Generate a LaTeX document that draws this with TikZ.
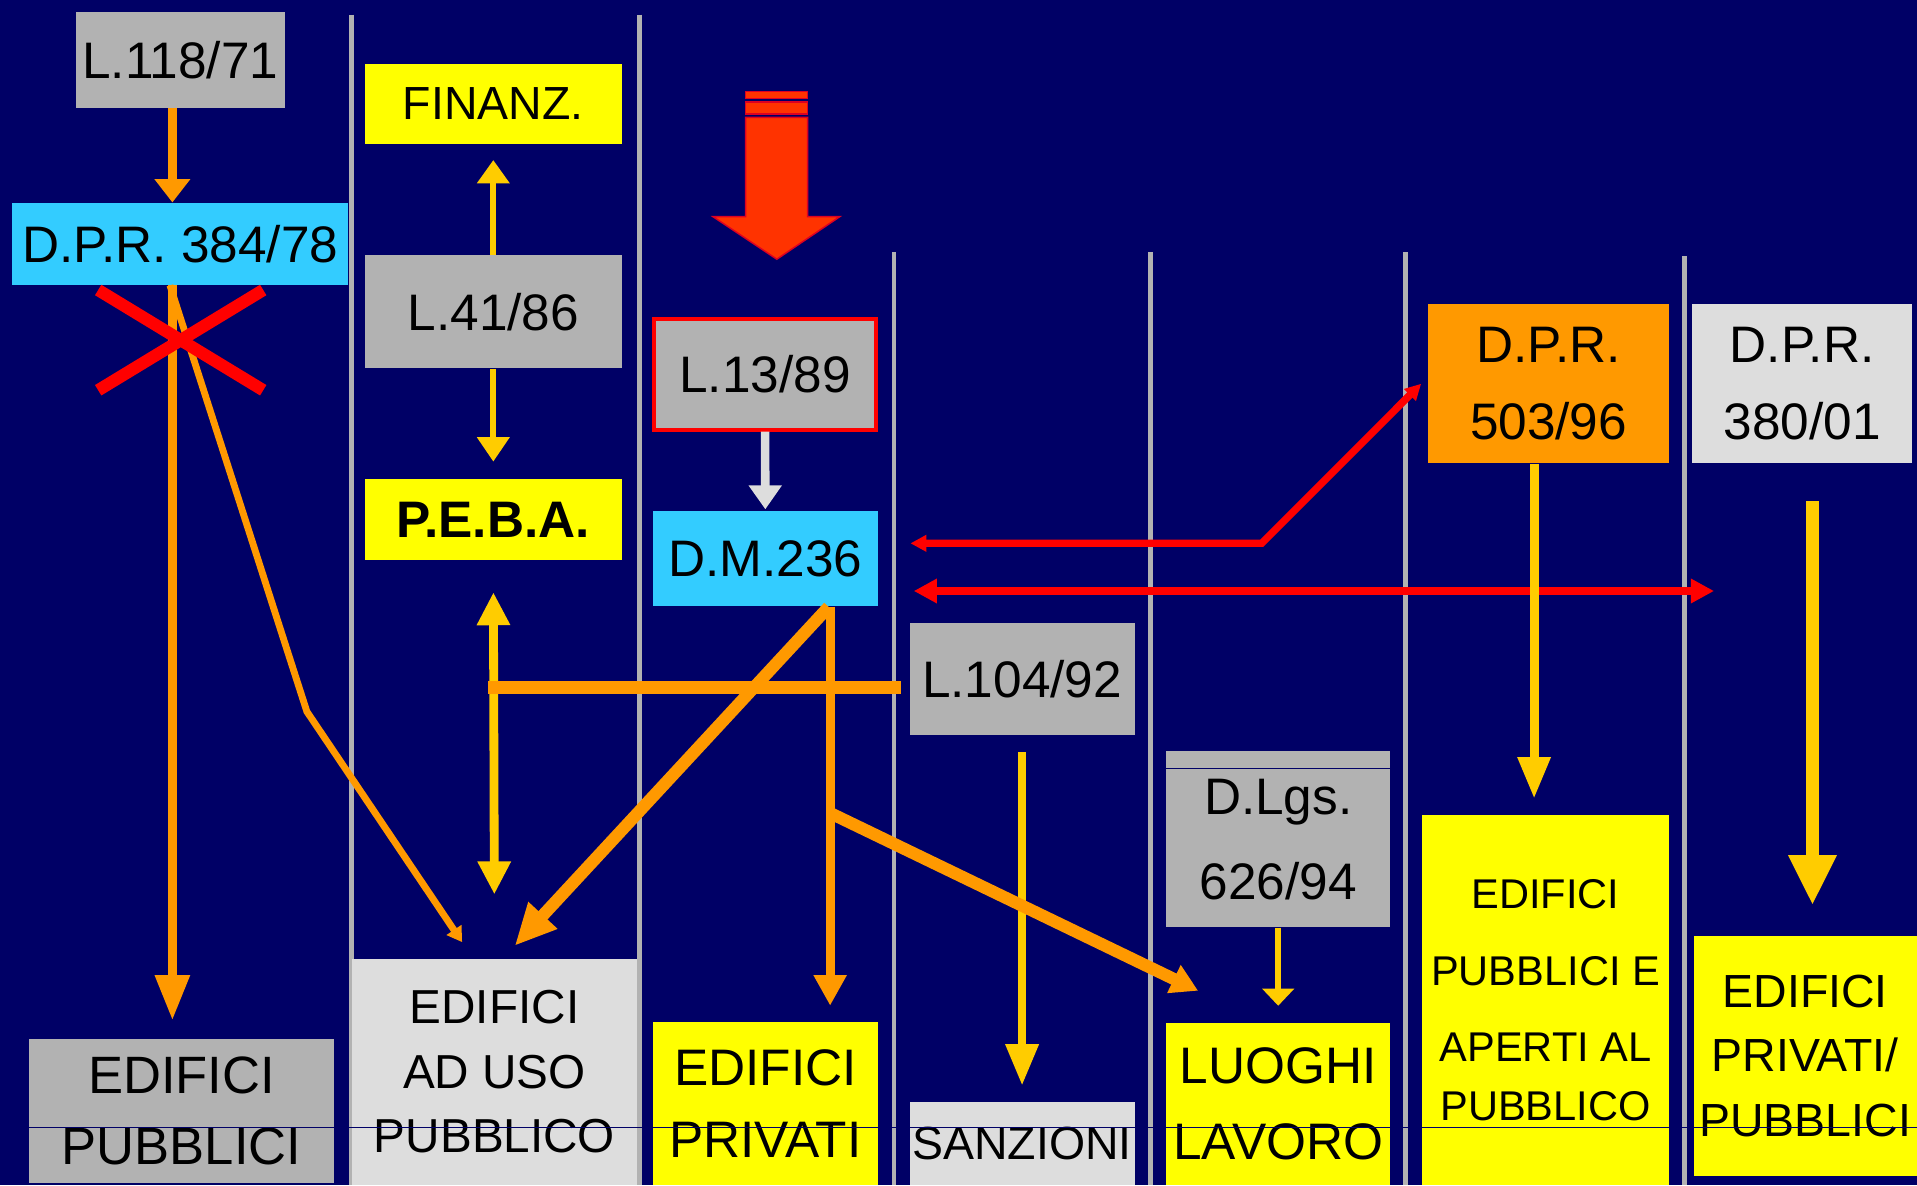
\documentclass[tikz,border=0pt]{standalone}
\usepackage{fontspec}
\setmainfont{Liberation Sans}
\usetikzlibrary{arrows.meta}

\definecolor{navy}{HTML}{000066}
\definecolor{sepgray}{HTML}{B2B2B2}
\definecolor{boxgray}{HTML}{B2B2B2}
\definecolor{boxlight}{HTML}{DDDDDD}
\definecolor{boxcyan}{HTML}{33CCFF}
\definecolor{boxyellow}{HTML}{FFFF00}
\definecolor{boxorange}{HTML}{FF9900}
\definecolor{linkorange}{HTML}{FF9900}
\definecolor{linkgold}{HTML}{FFCC00}
\definecolor{linkred}{HTML}{FF0000}
\definecolor{bigred}{HTML}{FF3300}
\definecolor{bigredline}{HTML}{DD0022}

\newcommand{\boxfont}[2]{\fontsize{#1}{#2}\selectfont}

\begin{document}
\begin{tikzpicture}[x=0.5pt,y=-0.5pt,
  lawbox/.style={inner sep=0pt, align=center, text=black},
  column/.style={draw=sepgray, line width=2pt},
  bigarrow/.style={fill=bigred, draw=bigredline, line width=0.6pt},
  orangelink/.style={draw=linkorange, line width=3.6pt},
  goldlink/.style={draw=linkgold, line width=3.6pt},
  redlink/.style={draw=linkred, line width=3pt},
  whitelink/.style={draw=boxlight, line width=3.5pt},
  scrap/.style={draw=navy, line width=0.4pt}]

% background and columns:
\fill[navy] (0,0) rectangle (1568,969.3);
\useasboundingbox (0,0) rectangle (1568,969.3);
\draw[column] (287.6,12) -- (287.6,969.3);
\draw[column] (523,12) -- (523,969.3);
\draw[column] (731.2,206) -- (731.2,969.3);
\draw[column] (940.7,206) -- (940.7,969.3);
\draw[column] (1149.8,206) -- (1149.8,969.3);
\draw[column] (1377.5,209.4) -- (1377.5,969.3);

% the big red arrow:
\filldraw[bigarrow] (609.9,74.7) rectangle (660.6,80.7);
\filldraw[bigarrow] (609.9,83.4) rectangle (660.6,93.2);
\filldraw[bigarrow] (609.9,96) -- (660.6,96) -- (660.6,177.2) -- (686.9,177.2)
  -- (635.4,212) -- (583.2,177.2) -- (609.9,177.2) -- cycle;

% laws:
\node[lawbox, fill=boxgray, minimum width=85.5pt, minimum height=39pt, font=\boxfont{21}{25}] (l118) at (147.5,49) {L.118/71};
\node[lawbox, fill=boxcyan, minimum width=137.5pt, minimum height=33.5pt, font=\boxfont{21}{25}] (dpr384) at (147.5,199.5) {D.P.R. 384/78};
\node[lawbox, fill=boxyellow, minimum width=105pt, minimum height=33pt, font=\boxfont{19}{23}] (finanz) at (403.5,85) {FINANZ.};
\node[lawbox, fill=boxgray, minimum width=105pt, minimum height=46.3pt, font=\boxfont{21}{25}] (l41) at (403.5,255) {L.41/86};
\node[lawbox, fill=boxyellow, minimum width=105pt, minimum height=33pt, font=\boxfont{21}{25}\bfseries] (peba) at (403.5,425) {P.E.B.A.};
\node[lawbox, fill=boxgray, draw=linkred, line width=1.65pt, minimum width=90.6pt, minimum height=45.1pt, font=\boxfont{21}{25}] (l13) at (625.8,306.3) {L.13/89};
\node[lawbox, fill=boxcyan, minimum width=92pt, minimum height=39pt, font=\boxfont{21}{25}] (dm236) at (626,457) {D.M.236};
\node[lawbox, fill=boxgray, minimum width=92pt, minimum height=46pt, font=\boxfont{21}{25}] (l104) at (836,555.5) {L.104/92};
\node[lawbox, fill=boxgray, minimum width=91.5pt, minimum height=72pt, font=\boxfont{21}{34.75}] (dlgs) at (1045.5,686.4) {D.Lgs.\\626/94};
\node[lawbox, fill=boxorange, minimum width=98.6pt, minimum height=65.2pt, font=\boxfont{21}{31.35}] (dpr503) at (1266.6,313.9) {D.P.R.\\503/96};
\node[lawbox, fill=boxlight, minimum width=90pt, minimum height=65.2pt, font=\boxfont{21}{31.35}] (dpr380) at (1474,313.9) {D.P.R.\\380/01};

% buildings:
\node[lawbox, fill=boxgray, minimum width=124.5pt, minimum height=59pt, font=\boxfont{21.5}{29}] (epub) at (148.5,909) {EDIFICI\\PUBBLICI};
\node[lawbox, fill=boxlight, minimum width=116.5pt, minimum height=92.5pt, font=\boxfont{19.5}{26.25}] (euso) at (404.5,876.5) {EDIFICI\\AD USO\\PUBBLICO};
\node[lawbox, fill=boxyellow, minimum width=92pt, minimum height=66.5pt, font=\boxfont{21}{29.7}] (epriv) at (626,902.5) {EDIFICI\\PRIVATI};
\node[lawbox, fill=boxlight, minimum width=92pt, minimum height=33.7pt, font=\boxfont{19}{23}] (sanz) at (836,935.4) {SANZIONI};
\node[lawbox, fill=boxyellow, minimum width=91.5pt, minimum height=66.25pt, font=\boxfont{21}{30.8}] (luoghi) at (1045.5,902.8) {LUOGHI\\LAVORO};
\node[lawbox, fill=boxyellow, minimum width=100.8pt, minimum height=151.2pt, font=\boxfont{17}{31.4}] (eaperti) at (1264.2,817.9) {EDIFICI\\PUBBLICI E\\APERTI AL\\[-7.55pt]PUBBLICO};
\node[lawbox, fill=boxyellow, minimum width=91.4pt, minimum height=98pt, font=\boxfont{19}{26.2}] (eprivpub) at (1476.6,863.7) {EDIFICI\\PRIVATI/\\PUBBLICI};

% thin scraps across the boxes
\draw[scrap] (0,922.5) -- (1568,922.5);
\draw[scrap] (954,628.6) -- (1137,628.6);

% free ends and bends
\coordinate (bendA) at (251,582);
\coordinate (pebajoin) at (399,562.5);
\coordinate (lavbranch) at (679,665);
\coordinate (redbend) at (1032,444.4);
\coordinate (redend) at (1402,483.4);
\coordinate (xmark) at (147.8,278.2);

% links:
\draw[goldlink, line width=2.4pt, -{Triangle[width=12.8pt,length=9.5pt]}, shorten >=6.25pt] (l41.north) -- (finanz.south);
\draw[goldlink, line width=2.4pt, -{Triangle[width=12.8pt,length=10pt]}, shorten >=7pt] (l41.south) -- (peba.north);
\draw[goldlink, {Triangle[width=12.8pt,length=13.5pt]}-{Triangle[width=12.8pt,length=13.5pt]}, shorten <=13pt, shorten >=26pt] (peba.south) -- (euso.north);
\draw[goldlink, -{Triangle[width=12.75pt,length=17pt]}, shorten <=6.5pt, shorten >=6.6pt] (l104.south) -- (sanz.north);
\draw[goldlink, line width=2.5pt, -{Triangle[width=12.75pt,length=7pt]}, shorten >=6.75pt] (dlgs.south) -- (luoghi.north);
\draw[whitelink, -{Triangle[width=13pt,length=9.8pt]}, shorten >=0.5pt] (l13.south) -- (dm236.north);

\draw[orangelink, -{Triangle[width=14pt,length=9.5pt]}] ([xshift=-3.25pt]l118.south) -- ([xshift=-3.25pt]dpr384.north);
\draw[orangelink, -{Triangle[width=13.5pt,length=18.5pt]}, shorten >=7.5pt] ([xshift=-3.25pt]dpr384.south) -- ([xshift=-3.25pt]dpr384.south |- epub.north);
\draw[orangelink, line width=2.8pt, -{Triangle[width=7pt,length=6pt]}] ([xshift=-4.25pt]dpr384.south) -- (bendA) -- ([xshift=-13.25pt,yshift=6.5pt]euso.north);
\draw[orangelink, line width=5.3pt] ([xshift=-3.5pt,yshift=-3.5pt]l104.west) -- (pebajoin);
\draw[orangelink, line width=5pt, -{Triangle[width=15pt,length=17pt]}] ([xshift=25.9pt]dm236.south) -- ([xshift=8.25pt,yshift=5pt]euso.north);
\draw[orangelink, -{Triangle[width=12.75pt,length=12.5pt]}, shorten >=6.5pt] ([xshift=26.5pt]dm236.south) -- ([xshift=26.5pt]dm236.south |- epriv.north);
\draw[orangelink, line width=5pt, -{Triangle[width=12pt,length=11pt]}] (lavbranch) -- ([xshift=-32.75pt,yshift=12.9pt]luoghi.north);

\draw[redlink, {Triangle[width=6.5pt,length=6.5pt]}-{Triangle[width=6.5pt,length=6.5pt]}] ([xshift=13.15pt,yshift=6.3pt]dm236.east) -- (redbend) -- ([xshift=-2.6pt]dpr503.west);
\draw[redlink, {Triangle[width=9.5pt,length=9.5pt]}-{Triangle[width=9.5pt,length=9.5pt]}] ([xshift=14.5pt,yshift=-13.2pt]dm236.east) -- (redend);

\draw[goldlink, -{Triangle[width=12.7pt,length=17pt]}, shorten >=6.5pt] ([xshift=-5.9pt]dpr503.south) -- ([xshift=-5.9pt]dpr503.south |- eaperti.north);
\draw[goldlink, line width=5.15pt, -{Triangle[width=18.35pt,length=20.5pt]}, shorten <=15.25pt, shorten >=12.4pt] ([xshift=4.25pt]dpr380.south) -- ([xshift=4.25pt]dpr380.south |- eprivpub.north);

% the red cross on D.P.R. 384/78
\draw[linkred, line width=5pt] (xmark) +(-67.5,-41) -- +(67.5,41);
\draw[linkred, line width=5pt] (xmark) +(-67.5,41) -- +(67.5,-41);

\end{tikzpicture}
\end{document}
